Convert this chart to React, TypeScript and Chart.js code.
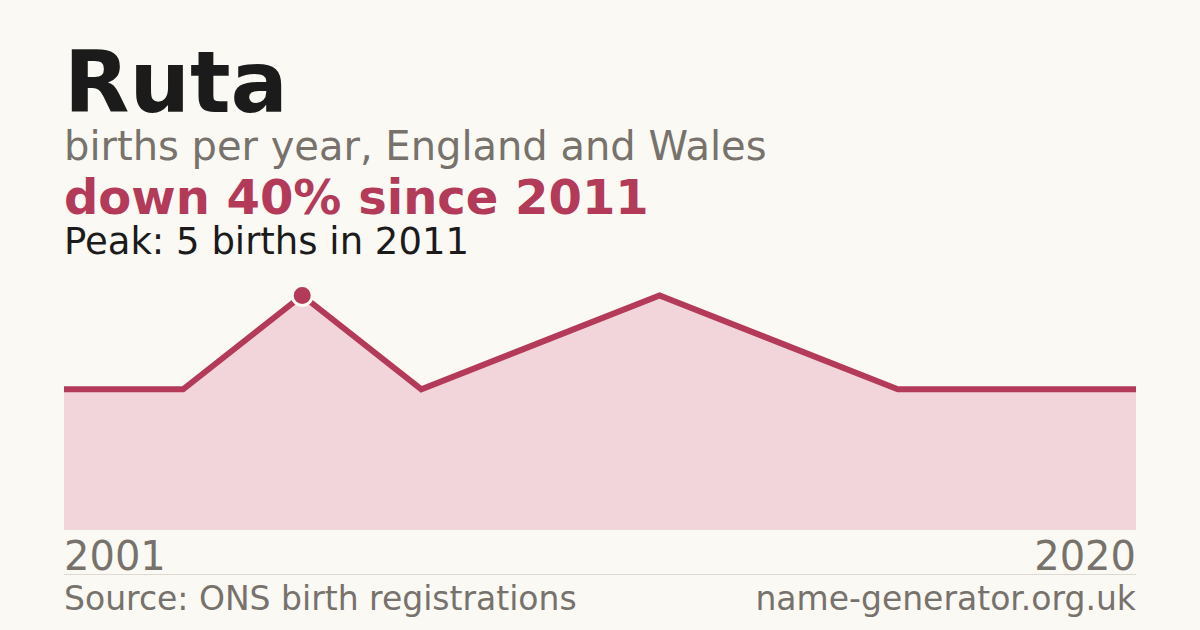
import { useEffect, useRef } from "react";
import Chart from "chart.js/auto";

// years that have a registration (only the ends are labelled)
const years = ["2001", "2009", "2011", "2012", "2014", "2015", "2016", "2018", "2019", "2020"];
const births = [3, 3, 5, 3, 4, 5, 4, 3, 3, 3];
const peakIndex = 2;

const title = "Ruta";
const subtitle = "births per year, England and Wales";
const headline = "down 40% since 2011";
const peakNote = "Peak: 5 births in 2011";
const sourceNote = "Source: ONS birth registrations";
const siteNote = "name-generator.org.uk";

const FONT = "'DejaVu Sans', sans-serif";
const CRIMSON = "#b33a58";
const GRAY = "#77726b";
const INK = "#1b1b1b";

function Text(props: {
  top: number;
  size: number;
  color: string;
  bold?: boolean;
  right?: boolean;
  children: string;
}) {
  const style: React.CSSProperties = {
    position: "absolute",
    top: props.top,
    fontFamily: FONT,
    fontSize: props.size,
    fontWeight: props.bold ? "bold" : "normal",
    lineHeight: 1,
    color: props.color,
    whiteSpace: "nowrap"
  };
  if (props.right) style.right = 64;
  else style.left = 64;
  return <div style={style}>{props.children}</div>;
}

export default function App() {
  const chartRef = useRef<HTMLCanvasElement>(null);
  const chartInstance = useRef<Chart | null>(null);

  useEffect(() => {
    if (!chartRef.current) return;
    if (chartInstance.current) chartInstance.current.destroy();

    const ctx = chartRef.current.getContext("2d");
    if (ctx) {
      chartInstance.current = new Chart(ctx, {
        type: "line",
        data: {
          labels: years,
          datasets: [
            {
              data: births,
              borderColor: CRIMSON,
              borderWidth: 6,
              backgroundColor: "#f2d5da",
              fill: "origin",
              tension: 0,
              clip: false,
              pointRadius: births.map((_, i) => (i === peakIndex ? 10 : 0)),
              pointBorderWidth: 3,
              pointBackgroundColor: CRIMSON,
              pointBorderColor: "#faf9f4",
              pointHoverRadius: 0
            }
          ]
        },
        options: {
          animation: false,
          responsive: true,
          maintainAspectRatio: false,
          layout: { padding: 0 },
          scales: {
            x: { display: false, offset: false },
            y: { display: false, min: 0, max: 5.5 }
          },
          plugins: {
            legend: { display: false },
            tooltip: { enabled: false }
          }
        }
      });
    }

    return () => {
      if (chartInstance.current) {
        chartInstance.current.destroy();
        chartInstance.current = null;
      }
    };
  }, []);

  return (
    <div
      style={{
        position: "fixed",
        left: 0,
        top: 0,
        width: 1200,
        height: 630,
        background: "#faf9f4",
        overflow: "hidden"
      }}
    >
      <Text top={40} size={85} color={INK} bold>
        {title}
      </Text>
      <Text top={125.5} size={40} color={GRAY}>
        {subtitle}
      </Text>
      <Text top={173} size={48} color={CRIMSON} bold>
        {headline}
      </Text>
      <Text top={222.5} size={37} color={INK}>
        {peakNote}
      </Text>

      <div style={{ position: "absolute", left: 64, top: 272, width: 1072, height: 258 }}>
        <canvas ref={chartRef}></canvas>
      </div>

      <Text top={536} size={40} color={GRAY}>
        {years[0]}
      </Text>
      <Text top={536} size={40} color={GRAY} right>
        {years[years.length - 1]}
      </Text>
      <div
        style={{
          position: "absolute",
          left: 64,
          top: 574,
          width: 1072,
          height: 1,
          background: "#dedad3"
        }}
      />
      <Text top={581.5} size={33} color={GRAY}>
        {sourceNote}
      </Text>
      <Text top={581.5} size={33} color={GRAY} right>
        {siteNote}
      </Text>
    </div>
  );
}
